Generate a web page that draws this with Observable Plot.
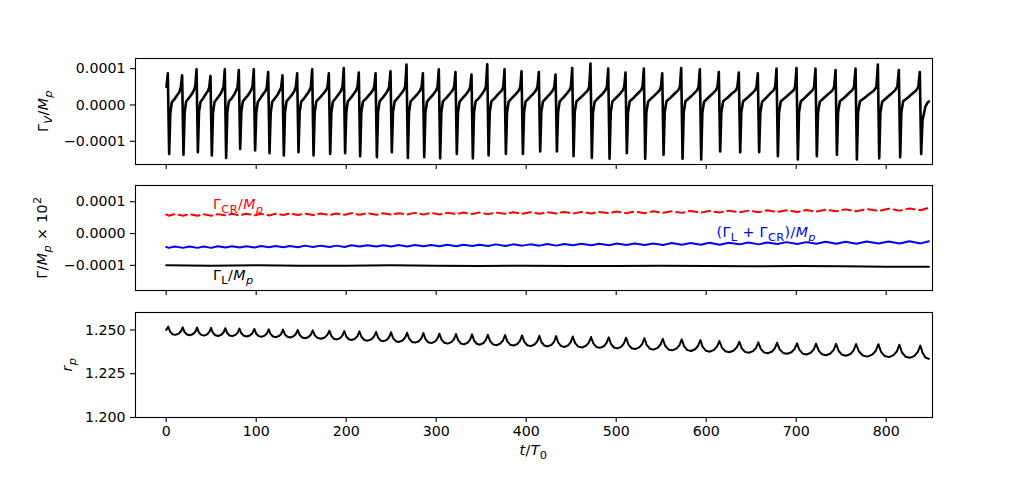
<!DOCTYPE html>
<html><head><meta charset="utf-8">
<script src="https://cdn.jsdelivr.net/npm/d3@7"></script>
<script src="https://cdn.jsdelivr.net/npm/@observablehq/plot@0.6"></script>
<style>
body{margin:0;background:#fff;}
#chart{width:1036px;height:491px;position:relative;background:#fff;}
#chart svg{display:block;}
</style></head><body><div id="chart"></div>
<script>
// ---- data (t/T0, value) ; Gamma values in units of 1e-4 ----
const xTicks = [0,100,200,300,400,500,600,700,800];
const gammaTicks = [-1, 0, 1];
const rTicks = [1.200, 1.225, 1.250];

const gammaV = [
[0.3,0.50],[1.8,0.87],
[3.3,-1.35],[4.6,-0.22],[6.3,0.08],[9.5,0.17],[12.5,0.28],[14.7,0.36],[16.3,0.50],
[17.7,0.82],[19.2,-1.37],[20.5,-0.20],[22.2,0.10],[25.5,0.20],[28.5,0.30],[30.7,0.40],[32.3,0.52],
[33.7,0.98],[35.2,-1.30],[36.5,-0.18],[38.2,0.09],[41.0,0.18],[44.0,0.30],[46.2,0.38],[47.8,0.48],
[49.2,0.80],[50.7,-1.39],[52.0,-0.22],[53.7,0.08],[57.0,0.19],[60.0,0.29],[62.1,0.39],[63.7,0.50],
[65.1,0.98],[66.6,-1.46],[67.9,-0.20],[69.6,0.10],[72.8,0.18],[75.8,0.30],[77.7,0.40],[79.3,0.49],
[80.7,0.96],[82.2,-1.21],[83.5,-0.18],[85.2,0.10],[88.6,0.20],[91.8,0.30],[94.3,0.41],[95.9,0.50],
[97.3,0.98],[98.8,-1.25],[100.1,-0.20],[101.8,0.08],[105.0,0.20],[108.0,0.31],[110.3,0.38],[111.9,0.50],
[113.3,0.91],[114.8,-1.33],[116.1,-0.21],[117.8,0.09],[121.0,0.19],[124.0,0.29],[126.2,0.40],[127.8,0.49],
[129.2,0.82],[130.7,-1.39],[132.0,-0.20],[133.7,0.10],[137.0,0.20],[140.3,0.30],[142.5,0.39],[144.1,0.50],
[145.5,0.87],[147.0,-1.30],[148.3,-0.19],[150.0,0.09],[153.5,0.19],[156.7,0.30],[159.2,0.40],[160.8,0.51],
[162.2,0.98],[163.7,-1.39],[165.0,-0.20],[166.8,0.10],[170.8,0.20],[174.5,0.31],[177.7,0.41],[179.3,0.50],
[180.7,0.87],[182.2,-1.35],[183.5,-0.21],[185.2,0.09],[188.7,0.20],[191.8,0.30],[194.3,0.39],[195.9,0.50],
[197.3,1.02],[198.8,-1.33],[200.1,-0.20],[201.8,0.10],[205.3,0.20],[208.5,0.31],[211.0,0.40],[212.6,0.50],
[214.0,0.89],[215.5,-1.41],[216.8,-0.20],[218.6,0.09],[222.5,0.19],[226.3,0.30],[229.6,0.40],[231.2,0.51],
[232.6,0.87],[234.1,-1.44],[235.4,-0.20],[237.1,0.10],[240.6,0.20],[243.7,0.30],[246.2,0.40],[247.8,0.50],
[249.2,0.93],[250.7,-1.30],[252.0,-0.19],[253.8,0.09],[257.5,0.20],[261.0,0.31],[264.0,0.41],[265.6,0.52],
[267.0,1.11],[268.5,-1.46],[269.8,-0.20],[271.6,0.10],[275.5,0.20],[279.2,0.30],[282.2,0.40],[283.8,0.50],
[285.2,0.87],[286.7,-1.44],[288.0,-0.21],[289.8,0.09],[293.5,0.20],[297.0,0.30],[299.9,0.40],[301.5,0.50],
[302.9,0.98],[304.4,-1.47],[305.7,-0.20],[307.5,0.10],[311.5,0.20],[315.2,0.31],[318.4,0.41],[320.0,0.51],
[321.4,0.91],[322.9,-1.35],[324.2,-0.20],[326.0,0.09],[329.8,0.20],[333.4,0.30],[336.2,0.40],[337.8,0.50],
[339.2,0.84],[340.7,-1.47],[342.0,-0.21],[343.8,0.10],[347.5,0.19],[350.9,0.30],[353.7,0.41],[355.3,0.52],
[356.7,1.12],[358.2,-1.39],[359.5,-0.20],[361.3,0.10],[365.5,0.20],[369.3,0.31],[372.9,0.40],[374.5,0.50],
[375.9,0.98],[377.4,-1.35],[378.7,-0.20],[380.5,0.09],[384.6,0.20],[388.4,0.30],[391.8,0.40],[393.4,0.50],
[394.8,0.93],[396.3,-1.35],[397.6,-0.21],[399.4,0.10],[403.6,0.20],[407.5,0.30],[411.0,0.41],[412.6,0.51],
[414.0,0.91],[415.5,-1.28],[416.8,-0.19],[418.6,0.09],[422.6,0.20],[426.3,0.30],[429.6,0.40],[431.2,0.50],
[432.6,0.84],[434.1,-1.28],[435.4,-0.20],[437.2,0.10],[441.2,0.20],[444.9,0.31],[448.1,0.41],[449.7,0.50],
[451.1,1.02],[452.6,-1.41],[453.9,-0.20],[455.8,0.10],[460.2,0.20],[464.4,0.30],[468.4,0.40],[470.0,0.50],
[471.4,1.14],[472.9,-1.46],[474.2,-0.21],[476.1,0.09],[480.4,0.20],[484.5,0.30],[488.1,0.41],[489.7,0.51],
[491.1,1.00],[492.6,-1.48],[493.9,-0.20],[495.8,0.10],[499.9,0.20],[503.9,0.30],[507.3,0.40],[508.9,0.50],
[510.3,0.89],[511.8,-1.33],[513.1,-0.20],[515.0,0.10],[519.5,0.20],[523.7,0.31],[527.7,0.41],[529.3,0.51],
[530.7,1.00],[532.2,-1.48],[533.5,-0.21],[535.4,0.09],[539.8,0.20],[544.1,0.30],[548.1,0.40],[549.7,0.50],
[551.1,0.87],[552.6,-1.37],[553.9,-0.20],[555.8,0.10],[560.4,0.20],[564.8,0.31],[569.0,0.41],[570.8,0.51],
[572.2,1.02],[573.7,-1.48],[575.0,-0.20],[576.9,0.10],[581.4,0.20],[585.7,0.30],[589.7,0.40],[591.5,0.50],
[592.9,0.98],[594.4,-1.50],[595.7,-0.21],[597.6,0.09],[602.2,0.20],[606.6,0.30],[610.8,0.41],[612.6,0.51],
[614.0,0.91],[615.5,-1.28],[616.8,-0.20],[618.8,0.10],[623.6,0.20],[628.2,0.31],[632.8,0.40],[634.7,0.50],
[636.2,0.89],[637.7,-1.30],[639.0,-0.20],[641.0,0.10],[645.7,0.20],[650.1,0.30],[654.1,0.40],[655.9,0.50],
[657.3,0.87],[658.8,-1.30],[660.1,-0.21],[662.1,0.09],[666.7,0.20],[671.0,0.31],[675.0,0.41],[676.7,0.51],
[678.1,1.00],[679.6,-1.41],[680.9,-0.20],[682.9,0.10],[687.7,0.20],[692.3,0.30],[696.9,0.40],[698.8,0.50],
[700.3,1.02],[701.8,-1.50],[703.1,-0.20],[705.1,0.10],[709.7,0.20],[714.1,0.31],[718.2,0.41],[719.9,0.50],
[721.4,1.00],[722.9,-1.41],[724.2,-0.21],[726.2,0.09],[731.0,0.20],[735.6,0.30],[740.2,0.40],[742.1,0.50],
[743.7,0.96],[745.2,-1.37],[746.5,-0.20],[748.5,0.10],[753.3,0.20],[757.9,0.31],[762.4,0.41],[764.3,0.51],
[765.9,1.00],[767.4,-1.50],[768.7,-0.20],[770.8,0.10],[776.1,0.20],[781.2,0.30],[786.4,0.40],[789.1,0.50],
[790.7,1.11],[792.2,-1.47],[793.5,-0.21],[795.5,0.09],[800.5,0.20],[805.3,0.30],[810.0,0.41],[812.4,0.51],
[814.0,0.96],[815.5,-1.44],[816.8,-0.20],[818.8,0.10],[823.8,0.20],[828.6,0.30],[833.2,0.40],[835.7,0.50],
[837.3,0.91],[838.8,-1.35],[840.3,-0.42],[843.5,-0.05],[845.5,0.05],[847.4,0.10]
];

const gammaCR = [
[0,0.60],[2.8,0.56],[9.8,0.61],[18.7,0.56],[25.7,0.61],[34.7,0.56],[41.5,0.61],[50.2,0.56],[57.2,0.61],[66.1,0.57],[73,0.62],[81.7,0.57],[89,0.62],[98.3,0.57],[105.3,0.62],[114.3,0.57],[121.3,0.62],[130.2,0.58],[137.4,0.63],[146.5,0.58],[153.9,0.63],[163.2,0.58],[171.5,0.63],[181.7,0.58],[189,0.63],[198.3,0.59],[205.7,0.64],[215,0.59],[223.3,0.64],[233.6,0.59],[240.9,0.64],[250.2,0.59],[258.1,0.64],[268,0.60],[276.1,0.65],[286.2,0.60],[294.1,0.65],[303.9,0.60],[312.2,0.65],[322.4,0.61],[330.3,0.66],[340.2,0.61],[348,0.66],[357.7,0.61],[366.3,0.66],[376.9,0.62],[385.4,0.67],[395.8,0.62],[404.4,0.67],[415,0.62],[423.3,0.67],[433.6,0.63],[441.9,0.68],[452.1,0.63],[461.3,0.68],[472.4,0.63],[481.3,0.68],[492.1,0.64],[500.7,0.69],[511.3,0.64],[520.5,0.69],[531.7,0.64],[540.9,0.70],[552.1,0.65],[561.7,0.70],[573.2,0.65],[582.5,0.71],[593.9,0.66],[603.5,0.71],[615,0.66],[625.1,0.72],[637.2,0.67],[646.8,0.72],[658.3,0.67],[667.7,0.73],[679.1,0.68],[689.2,0.73],[701.3,0.68],[710.9,0.74],[722.4,0.69],[732.6,0.75],[744.7,0.70],[754.8,0.76],[766.9,0.70],[778.3,0.77],[791.7,0.71],[802.4,0.78],[815,0.72],[825.7,0.79],[838.3,0.73],[847.4,0.81]
];

const gammaSum = [
[0,-0.42],[2.8,-0.45],[9.8,-0.41],[18.7,-0.45],[25.7,-0.41],[34.7,-0.45],[41.5,-0.41],[50.2,-0.45],[57.2,-0.40],[66.1,-0.44],[73,-0.40],[81.7,-0.44],[89,-0.40],[98.3,-0.44],[105.3,-0.39],[114.3,-0.43],[121.3,-0.39],[130.2,-0.43],[137.4,-0.39],[146.5,-0.43],[153.9,-0.38],[163.2,-0.42],[171.5,-0.38],[181.7,-0.42],[189,-0.38],[198.3,-0.42],[205.7,-0.37],[215,-0.41],[223.3,-0.37],[233.6,-0.41],[240.9,-0.37],[250.2,-0.41],[258.1,-0.36],[268,-0.41],[276.1,-0.36],[286.2,-0.40],[294.1,-0.36],[303.9,-0.40],[312.2,-0.35],[322.4,-0.40],[330.3,-0.35],[340.2,-0.39],[348,-0.35],[357.7,-0.39],[366.3,-0.34],[376.9,-0.39],[385.4,-0.34],[395.8,-0.38],[404.4,-0.34],[415,-0.38],[423.3,-0.33],[433.6,-0.38],[441.9,-0.33],[452.1,-0.37],[461.3,-0.32],[472.4,-0.37],[481.3,-0.32],[492.1,-0.37],[500.7,-0.31],[511.3,-0.36],[520.5,-0.31],[531.7,-0.36],[540.9,-0.31],[552.1,-0.36],[561.7,-0.30],[573.2,-0.35],[582.5,-0.30],[593.9,-0.35],[603.5,-0.29],[615,-0.35],[625.1,-0.29],[637.2,-0.34],[646.8,-0.28],[658.3,-0.34],[667.7,-0.28],[679.1,-0.33],[689.2,-0.27],[701.3,-0.33],[710.9,-0.27],[722.4,-0.32],[732.6,-0.26],[744.7,-0.32],[754.8,-0.26],[766.9,-0.32],[778.3,-0.25],[791.7,-0.31],[802.4,-0.25],[815,-0.31],[825.7,-0.24],[838.3,-0.31],[847.4,-0.24]
];

const gammaL = [
[0,-1.00],[50,-1.01],[100,-1.00],[150,-1.01],[200,-1.01],[250,-1.00],[300,-1.01],[350,-1.02],[400,-1.01],[450,-1.02],[500,-1.02],[550,-1.01],[600,-1.02],[650,-1.03],[700,-1.02],[750,-1.03],[800,-1.04],[847.4,-1.04]
];

const rp = [
[0,1.2500],[2.2,1.2519],
[4.3,1.2491],[7.0,1.2476],[10.3,1.2472],[13.8,1.2479],[16.4,1.2493],
[18.3,1.2515],[20.4,1.2488],[23.1,1.2474],[26.3,1.2470],[29.8,1.2477],[32.4,1.2490],
[34.3,1.2514],[36.3,1.2486],[39.0,1.2472],[42.1,1.2468],[45.5,1.2475],[48.0,1.2489],
[49.8,1.2512],[51.9,1.2484],[54.6,1.2470],[57.8,1.2466],[61.2,1.2473],[63.8,1.2487],
[65.7,1.2510],[67.7,1.2483],[70.4,1.2469],[73.5,1.2465],[76.9,1.2472],[79.4,1.2485],
[81.3,1.2508],[83.5,1.2481],[86.3,1.2467],[89.6,1.2463],[93.3,1.2470],[95.9,1.2483],
[97.9,1.2506],[100.0,1.2479],[102.7,1.2465],[105.9,1.2461],[109.4,1.2468],[112.0,1.2481],
[113.9,1.2504],[116.0,1.2477],[118.7,1.2463],[121.9,1.2459],[125.3,1.2466],[127.9,1.2479],
[129.8,1.2502],[131.9,1.2475],[134.7,1.2461],[138.0,1.2457],[141.5,1.2464],[144.1,1.2477],
[146.1,1.2500],[148.3,1.2472],[151.1,1.2457],[154.5,1.2453],[158.1,1.2460],[160.8,1.2474],
[162.8,1.2498],[165.2,1.2469],[168.4,1.2454],[172.1,1.2450],[176.1,1.2457],[179.1,1.2472],
[181.3,1.2496],[183.5,1.2466],[186.3,1.2450],[189.6,1.2446],[193.3,1.2454],[195.9,1.2469],
[197.9,1.2494],[200.1,1.2463],[202.9,1.2447],[206.3,1.2443],[209.9,1.2451],[212.6,1.2466],
[214.6,1.2492],[217.0,1.2460],[220.2,1.2443],[223.9,1.2439],[228.0,1.2447],[231.0,1.2463],
[233.2,1.2489],[235.4,1.2457],[238.2,1.2440],[241.5,1.2436],[245.2,1.2444],[247.8,1.2460],
[249.8,1.2487],[252.1,1.2454],[255.1,1.2436],[258.7,1.2432],[262.6,1.2440],[265.5,1.2457],
[267.6,1.2484],[270.0,1.2450],[273.1,1.2432],[276.7,1.2428],[280.7,1.2436],[283.6,1.2453],
[285.8,1.2482],[288.1,1.2448],[291.1,1.2430],[294.7,1.2425],[298.5,1.2434],[301.4,1.2451],
[303.5,1.2479],[305.9,1.2445],[309.1,1.2427],[312.8,1.2422],[316.8,1.2431],[319.8,1.2448],
[322.0,1.2477],[324.3,1.2442],[327.3,1.2423],[330.9,1.2418],[334.8,1.2427],[337.7,1.2445],
[339.8,1.2475],[342.1,1.2440],[345.1,1.2421],[348.6,1.2416],[352.4,1.2425],[355.2,1.2443],
[357.3,1.2473],[359.8,1.2437],[363.1,1.2418],[366.9,1.2413],[371.1,1.2422],[374.2,1.2440],
[376.5,1.2471],[379.0,1.2435],[382.2,1.2416],[386.0,1.2411],[390.1,1.2420],[393.1,1.2438],
[395.4,1.2469],[397.9,1.2432],[401.2,1.2413],[405.0,1.2408],[409.2,1.2417],[412.3,1.2435],
[414.6,1.2467],[417.0,1.2430],[420.2,1.2411],[423.9,1.2406],[428.0,1.2415],[431.0,1.2433],
[433.2,1.2465],[435.6,1.2428],[438.8,1.2408],[442.5,1.2403],[446.5,1.2412],[449.5,1.2431],
[451.7,1.2463],[454.3,1.2425],[457.8,1.2405],[461.9,1.2400],[466.3,1.2409],[469.6,1.2428],
[472.0,1.2460],[474.6,1.2423],[477.9,1.2403],[481.9,1.2398],[486.2,1.2407],[489.3,1.2426],
[491.7,1.2458],[494.2,1.2420],[497.5,1.2400],[501.3,1.2395],[505.5,1.2404],[508.6,1.2423],
[510.9,1.2456],[513.6,1.2417],[517.0,1.2396],[521.1,1.2391],[525.6,1.2401],[528.9,1.2420],
[531.3,1.2453],[534.0,1.2414],[537.4,1.2393],[541.5,1.2388],[546.0,1.2398],[549.3,1.2417],
[551.7,1.2450],[554.4,1.2410],[558.0,1.2389],[562.2,1.2384],[566.9,1.2394],[570.3,1.2414],
[572.8,1.2446],[575.5,1.2406],[579.0,1.2385],[583.2,1.2380],[587.7,1.2390],[591.0,1.2410],
[593.5,1.2442],[596.2,1.2402],[599.8,1.2381],[604.0,1.2376],[608.7,1.2386],[612.1,1.2406],
[614.6,1.2437],[617.5,1.2399],[621.3,1.2378],[625.7,1.2373],[630.6,1.2383],[634.1,1.2402],
[636.8,1.2433],[639.5,1.2395],[643.1,1.2375],[647.4,1.2370],[652.0,1.2379],[655.4,1.2398],
[657.9,1.2430],[660.6,1.2392],[664.1,1.2372],[668.3,1.2367],[672.9,1.2376],[676.2,1.2395],
[678.7,1.2427],[681.6,1.2389],[685.4,1.2369],[689.8,1.2364],[694.7,1.2373],[698.2,1.2392],
[700.9,1.2424],[703.6,1.2386],[707.2,1.2365],[711.5,1.2360],[716.1,1.2370],[719.5,1.2389],
[722.0,1.2422],[724.9,1.2382],[728.7,1.2361],[733.2,1.2356],[738.1,1.2366],[741.6,1.2386],
[744.3,1.2421],[747.2,1.2380],[751.0,1.2358],[755.4,1.2353],[760.3,1.2363],[763.8,1.2384],
[766.5,1.2420],[769.7,1.2377],[774.0,1.2354],[778.9,1.2348],[784.4,1.2359],[788.3,1.2380],
[791.3,1.2419],[794.3,1.2375],[798.3,1.2351],[803.0,1.2345],[808.1,1.2356],[811.8,1.2378],
[814.6,1.2416],[817.6,1.2371],[821.6,1.2347],[826.3,1.2341],[831.4,1.2352],[835.1,1.2375],
[837.9,1.2411],[840.5,1.2368],[843.5,1.2343],[847.4,1.2335]
];

// ---- layout ----
const FONT = "DejaVu Sans";
const FS = 14.2;
const W = 1036, ML = 135, MR = 104;
const xDomain = [-34.1, 851.4];
const toRows = arr => arr.map(([t, v]) => ({t, v}));
const gammaFmt = d => d3.format(".4f")(d * 1e-4);

function makePanel({height, marginTop, marginBottom, yDomain, yTicks, yFormat, showX, marks}) {
  return Plot.plot({
    width: W, height, marginLeft: ML, marginRight: MR, marginTop, marginBottom,
    style: {fontFamily: FONT, fontSize: FS + "px", background: "white", color: "black", overflow: "visible"},
    x: {domain: xDomain, label: null},
    y: {domain: yDomain, label: null},
    marks: [
      ...marks,
      Plot.frame({stroke: "black", strokeWidth: 1.1}),
      Plot.axisY({ticks: yTicks, tickFormat: yFormat, tickSize: 5, tickPadding: 5, label: null,
                  strokeWidth: 1.1, fontSize: FS, fontFamily: FONT, fill: "black"}),
      Plot.axisX({ticks: xTicks, tickFormat: showX ? (d => String(d)) : (() => ""), tickSize: 5, tickPadding: 3.5,
                  label: null, strokeWidth: 1.1, fontSize: FS, fontFamily: FONT, fill: "black"})
    ]
  });
}

function rich(svg, x, y, parts, {fill = "black", anchor = "start", rotate = false, size = FS} = {}) {
  const t = d3.select(svg).append("text")
    .attr("x", x).attr("y", y).attr("fill", fill)
    .attr("font-family", FONT).attr("font-size", size).attr("text-anchor", anchor)
    .style("font-size", size + "px").style("font-family", FONT).style("letter-spacing", "0.4px");
  if (rotate) t.attr("transform", `rotate(-90 ${x} ${y})`);
  let shift = 0;
  for (const [s, kind] of parts) {
    const sp = t.append("tspan").text(s);
    let target = 0, fs = size;
    if (kind.includes("sub")) { target = 0.26 * size; fs = 0.8 * size; }
    if (kind.includes("sup")) { target = -0.42 * size; fs = 0.8 * size; }
    if (kind.includes("i")) sp.style("font-style", "italic");
    sp.attr("dy", target - shift).style("font-size", fs + "px");
    shift = target;
  }
  return t;
}

const chart = document.getElementById("chart");

// Panel 1: Gamma_V / M_p
const p1 = makePanel({
  height: 174, marginTop: 58, marginBottom: 10,
  yDomain: [-1.64, 1.28], yTicks: gammaTicks, yFormat: gammaFmt, showX: false,
  marks: [Plot.line(toRows(gammaV), {x: "t", y: "v", stroke: "black", strokeWidth: 2.6})]
});
chart.appendChild(p1);
rich(p1, 48, 111, [["Γ",""],["V","subi"],["/",""],["M","i"],["p","subi"]], {anchor: "middle", rotate: true});

// Panel 2: Gamma_L, Gamma_CR, sum
const p2 = makePanel({
  height: 127, marginTop: 11, marginBottom: 11,
  yDomain: [-1.79, 1.51], yTicks: gammaTicks, yFormat: gammaFmt, showX: false,
  marks: [
    Plot.line(toRows(gammaCR), {x: "t", y: "v", stroke: "#ff0000", strokeWidth: 2, strokeDasharray: "8.5,4.5"}),
    Plot.line(toRows(gammaSum), {x: "t", y: "v", stroke: "#0000ff", strokeWidth: 2}),
    Plot.line(toRows(gammaL), {x: "t", y: "v", stroke: "black", strokeWidth: 2})
  ]
});
chart.appendChild(p2);
{
  const sx = p2.scale("x"), sy = p2.scale("y");
  rich(p2, sx.apply(52.6), sy.apply(0.756), [["Γ",""],["CR","sub"],["/",""],["M","i"],["p","subi"]], {fill: "#ff0000"});
  rich(p2, sx.apply(612), sy.apply(-0.125), [["(Γ",""],["L","sub"],[" + Γ",""],["CR","sub"],[")/",""],["M","i"],["p","subi"]], {fill: "#0000ff"});
  rich(p2, sx.apply(52.6), sy.apply(-1.478), [["Γ",""],["L","sub"],["/",""],["M","i"],["p","subi"]], {fill: "black"});
}
rich(p2, 47, 63.5, [["Γ/",""],["M","i"],["p","subi"],[" × 10",""],["2","sup"]], {anchor: "middle", rotate: true});

// Panel 3: r_p
const p3 = makePanel({
  height: 190, marginTop: 11, marginBottom: 74,
  yDomain: [1.2, 1.26], yTicks: rTicks, yFormat: d3.format(".3f"), showX: true,
  marks: [Plot.line(toRows(rp), {x: "t", y: "v", stroke: "black", strokeWidth: 2})]
});
chart.appendChild(p3);
rich(p3, 72, 63.5, [["r","i"],["p","subi"]], {anchor: "middle", rotate: true});
rich(p3, 533.5, 154, [["t","i"],["/",""],["T","i"],["0","sub"]], {anchor: "middle"});
</script>
</body></html>
